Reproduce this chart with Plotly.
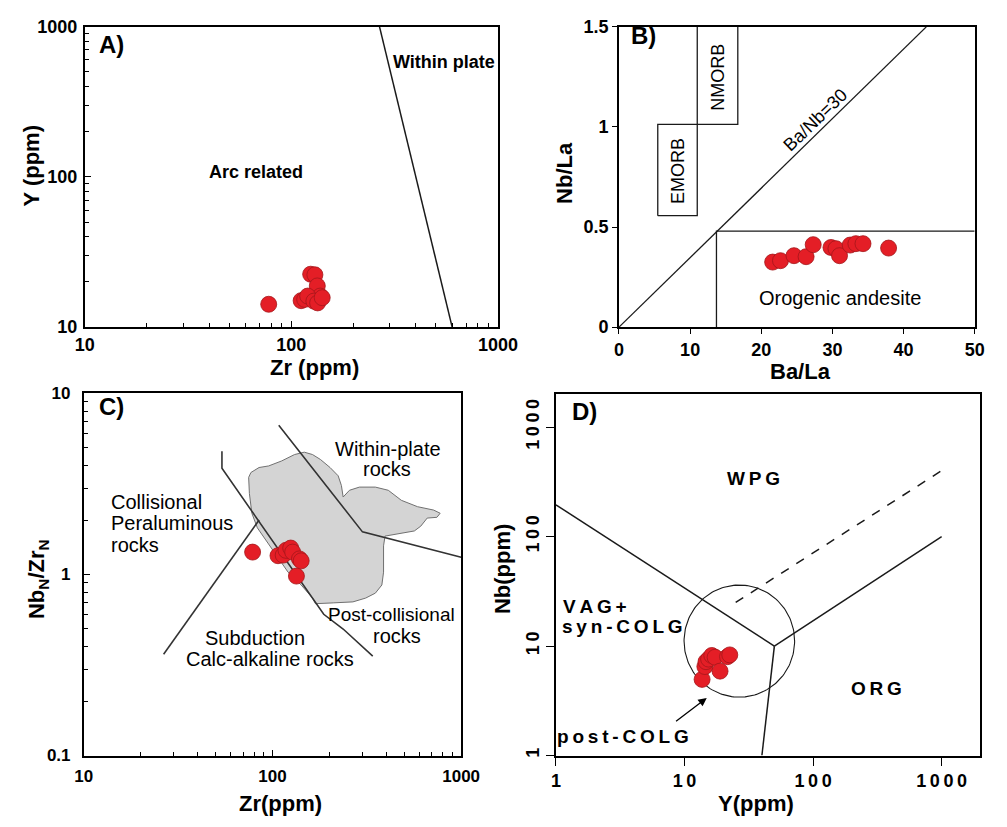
import math
import numpy as np
import plotly.graph_objects as go

W, H = 1007, 827
FONT = "Arial, 'Liberation Sans', Helvetica, sans-serif"
RED = "#E41E26"
RED_EDGE = "#A3161B"
INK = "#1a1a1a"

# ---------------- Panel A : Y vs Zr ----------------
zr_a = [77.7, 124, 130, 133.5, 138, 111.5, 116, 120, 128.5, 134, 141]
y_a = [14.2, 22.5, 22.3, 18.8, 16.1, 15.0, 15.3, 16.1, 14.9, 14.5, 15.7]
arc_wp_zr = [267, 600]
arc_wp_y = [1000, 10]

# ---------------- Panel B : Nb/La vs Ba/La ----------------
ba_la_b = [21.6, 22.7, 24.6, 26.3, 27.3, 29.8, 30.5, 31.0, 32.5, 33.3, 34.3, 37.9]
nb_la_b = [0.325, 0.332, 0.357, 0.352, 0.412, 0.398, 0.392, 0.357, 0.410, 0.417, 0.417, 0.395]
banb30_x = [0, 43.2]
banb30_y = [0, 1.5]
orogenic_x = [13.7, 13.7, 50]
orogenic_y = [0, 0.48, 0.48]
emorb_x = [5.45, 5.45, 11.0, 11.0, 5.45]
emorb_y = [0.557, 1.013, 1.013, 0.557, 0.557]
nmorb_x = [11.0, 11.0, 16.7, 16.7]
nmorb_y = [1.5, 1.013, 1.013, 1.5]

# ---------------- Panel C : NbN/ZrN vs Zr ----------------
zr_c = [78.5, 107, 114, 118, 125, 128, 139, 142, 134]
nbzr_c = [1.33, 1.27, 1.28, 1.36, 1.40, 1.33, 1.22, 1.19, 0.98]
subd_x = [26.5, 85]
subd_y = [0.363, 2.0]
coll_x = [54, 54, 187, 237, 340]
coll_y = [4.8, 3.86, 0.603, 0.5, 0.354]
wp_x = [108, 300, 1000]
wp_y = [6.68, 1.72, 1.245]
field_zr = [74.8, 76.9, 84.9, 95.5, 111.9, 131, 147.5, 163, 179.6, 202, 223, 232, 237,
            256, 289, 351, 411, 482, 587, 715, 774, 744, 661, 611, 565, 395, 388, 388,
            380, 351, 312, 267, 210, 169, 163, 142, 121, 103, 91.8, 83.2, 77.8, 75.5, 74.8]
field_nbzr = [3.44, 3.66, 3.90, 3.98, 4.24, 4.60, 4.74, 4.60, 4.32, 3.90, 3.51, 3.10, 2.68,
              2.92, 3.04, 3.04, 2.92, 2.57, 2.37, 2.27, 2.18, 2.07, 2.05, 1.85, 1.74, 1.63, 1.44, 1.03,
              0.875, 0.789, 0.741, 0.706, 0.697, 0.69, 0.741, 0.875, 1.03, 1.32, 1.57, 1.81, 2.18, 2.80, 3.44]

# ---------------- Panel D : Nb vs Y ----------------
y_d = [13.7, 14.4, 14.7, 15.4, 16.3, 17.3, 18.9, 21.6, 22.5]
nb_d = [4.96, 6.5, 7.2, 7.6, 8.2, 7.9, 5.9, 8.0, 8.3]
wpg_vag_x = [1, 50]
wpg_vag_y = [195, 10]
wpg_org_x = [50, 1000]
wpg_org_y = [10, 100]
vag_org_x = [40, 50]
vag_org_y = [1, 10]
dash_x = [25, 1000]
dash_y = [25, 400]
postcolg_center = (26.7, 11.1)      # Y, Nb
postcolg_radius_log = (0.43, 0.512)  # decades along Y and Nb

# panel frames in pixels: left, top, right, bottom
frames = {
    "1": (77, 17, 503, 325),
    "2": (627.7, 17.3, 994.3, 325),
    "3": (76, 393, 465, 764),
    "4": (562.7, 394, 1000, 764),
}


def dom(f):
    l, t, r, b = f
    return [l / W, r / W], [1 - b / H, 1 - t / H]


fig = go.Figure()


def line(x, y, n, dash="solid", width=1.5, color=INK):
    fig.add_trace(go.Scatter(x=x, y=y, mode="lines", xaxis="x" + n, yaxis="y" + n,
                             line=dict(color=color, width=width, dash=dash),
                             hoverinfo="skip", showlegend=False))


def points(x, y, n):
    fig.add_trace(go.Scatter(x=x, y=y, mode="markers", xaxis="x" + n, yaxis="y" + n,
                             marker=dict(size=16, color=RED, line=dict(color=RED_EDGE, width=0.8)),
                             showlegend=False))


# Panel A
line(arc_wp_zr, arc_wp_y, "1")
points(zr_a, y_a, "1")

# Panel B
line(banb30_x, banb30_y, "2", width=1.3)
line(orogenic_x, orogenic_y, "2", width=1.3)
line(emorb_x, emorb_y, "2", width=1.3)
line(nmorb_x, nmorb_y, "2", width=1.3)
points(ba_la_b, nb_la_b, "2")

# Panel C
fig.add_trace(go.Scatter(x=field_zr, y=field_nbzr, mode="lines", fill="toself",
                         fillcolor="#D4D4D4", line=dict(color="#707070", width=1),
                         xaxis="x3", yaxis="y3", hoverinfo="skip", showlegend=False))
line(subd_x, subd_y, "3", color="#333333", width=1.6)
line(coll_x, coll_y, "3", color="#333333", width=1.6)
line(wp_x, wp_y, "3", color="#333333", width=1.6)
points(zr_c, nbzr_c, "3")

# Panel D
line(wpg_vag_x, wpg_vag_y, "4")
line(wpg_org_x, wpg_org_y, "4")
line(vag_org_x, vag_org_y, "4")
line(dash_x, dash_y, "4", dash="dash")
t = np.linspace(0, 2 * np.pi, 181)
cx, cy = math.log10(postcolg_center[0]), math.log10(postcolg_center[1])
rx, ry = postcolg_radius_log
line(10 ** (cx + rx * np.cos(t)), 10 ** (cy + ry * np.sin(t)), "4", width=1.1)
points(y_d, nb_d, "4")

tickfont = dict(family=FONT, size=18, color="black", weight="bold")


def axis(n, which, **kw):
    d = dom(frames[n])
    base = dict(domain=d[0] if which == "x" else d[1], showline=True, linecolor="black",
                linewidth=1.6, mirror=True, showgrid=False, zeroline=False,
                tickfont=tickfont, tickcolor="black")
    base.update(kw)
    key = ("xaxis" if which == "x" else "yaxis") + ("" if n == "1" else n)
    base["anchor"] = ("y" if which == "x" else "x") + ("" if n == "1" else n)
    fig.layout[key] = base


log_inside = dict(type="log", dtick=1, ticks="inside", ticklen=6, tickwidth=1.2,
                  minor=dict(ticks="inside", ticklen=4, tickwidth=1, tickcolor="black",
                             dtick="D1", showgrid=False))

axis("1", "x", range=[1, 3], ticklabelstandoff=0, **log_inside)
axis("1", "y", range=[1, 3], ticklabelstandoff=2, **log_inside)
axis("2", "x", range=[0, 50], tickvals=[0, 10, 20, 30, 40, 50], ticks="outside", ticklen=5)
axis("2", "y", range=[0, 1.5], tickvals=[0, 0.5, 1, 1.5], ticktext=["0", "0.5", "1", "1.5"],
     ticks="outside", ticklen=5)
axis("3", "x", range=[1, 3], ticklabelstandoff=4, tickfont=dict(tickfont, size=17), **log_inside)
axis("3", "y", range=[-1, 1], ticklabelstandoff=8, tickfont=dict(tickfont, size=17), **log_inside)


def spaced(s):
    return "\u2009".join(s)


dvals = [1, 10, 100, 1000]
axis("4", "x", type="log", range=[0, 3.3], tickvals=dvals, ticktext=[spaced(str(v)) for v in dvals],
     ticks="outside", ticklen=8, tickwidth=1.2, linewidth=2)
axis("4", "y", type="log", range=[0, 3.298], tickvals=dvals, ticktext=[spaced(str(v)) for v in dvals],
     ticks="outside", ticklen=8, tickwidth=1.2, tickangle=-90, linewidth=2)

ann = []


def text(s, x, y, n=None, size=18, bold=False, angle=0, xanchor="center", color="black", logx=False,
         logy=False):
    f = dict(family=FONT, size=size, color=color)
    if bold:
        f["weight"] = "bold"
    if n is None:
        a = dict(x=x / W, y=1 - y / H, xref="paper", yref="paper")
    else:
        a = dict(x=math.log10(x) if logx else x, y=math.log10(y) if logy else y,
                 xref="x" + ("" if n == "1" else n), yref="y" + ("" if n == "1" else n))
    a.update(text=s, showarrow=False, font=f, textangle=angle, xanchor=xanchor, yanchor="middle")
    ann.append(a)


# Panel A labels
text("A)", 13.5, 764, "1", size=24, bold=True, logx=True, logy=True)
text("Within plate", 546, 583, "1", size=18, bold=True, logx=True, logy=True)
text("Arc related", 67.8, 107.6, "1", size=18, bold=True, logx=True, logy=True)
text("Zr (ppm)", 314, 366, size=22, bold=True)
text("Y (ppm)", 22, 160, size=22, bold=True, angle=-90)

# Panel B labels
text("B)", 3.5, 1.455, "2", size=24, bold=True)
text("EMORB", 8.3, 0.78, "2", size=18, angle=-90)
text("NMORB", 13.9, 1.25, "2", size=18, angle=-90)
text("Ba/Nb=30", 27.6, 1.035, "2", size=18, angle=-44)
text("Orogenic andesite", 31.0, 0.146, "2", size=20)
text("Nb/La", 572, 167, size=22, bold=True, angle=-90)
text("Ba/La", 815, 370, size=22, bold=True)

# Panel C labels
C_SIZE = 20
text("C)", 14.1, 8.43, "3", size=24, bold=True, logx=True, logy=True)
text("Within-plate", 411, 4.95, "3", size=C_SIZE, logx=True, logy=True)
text("rocks", 405, 3.82, "3", size=C_SIZE, logx=True, logy=True)
text("Collisional", 13.55, 2.50, "3", size=C_SIZE, xanchor="left", logx=True, logy=True)
text("Peraluminous", 13.55, 1.92, "3", size=C_SIZE, xanchor="left", logx=True, logy=True)
text("rocks", 13.55, 1.46, "3", size=C_SIZE, xanchor="left", logx=True, logy=True)
text("Post-collisional", 428, 0.60, "3", size=19, logx=True, logy=True)
text("rocks", 455, 0.460, "3", size=C_SIZE, logx=True, logy=True)
text("Subduction", 80.7, 0.447, "3", size=C_SIZE, logx=True, logy=True)
text("Calc-alkaline rocks", 96.6, 0.34, "3", size=C_SIZE, logx=True, logy=True)
text("Zr(ppm)", 279, 813, size=22, bold=True)
text("Nb<sub>N</sub>/Zr<sub>N</sub>", 29, 583, size=22, bold=True, angle=-90)

# Panel D labels
text("D)", 1.66, 1380, "4", size=24, bold=True, logx=True, logy=True)
text(spaced("WPG"), 34.6, 340, "4", size=19, bold=True, logx=True, logy=True)
text(spaced("VAG+"), 2.01, 23.2, "4", size=19, bold=True, logx=True, logy=True)
text(spaced("syn-COLG"), 3.32, 15.1, "4", size=19, bold=True, logx=True, logy=True)
text(spaced("ORG"), 313, 4.12, "4", size=19, bold=True, logx=True, logy=True)
text(spaced("post-COLG"), 3.32, 1.48, "4", size=19, bold=True, logx=True, logy=True)
text("Nb(ppm)", 507, 573, size=22, bold=True, angle=-90)
text("Y(ppm)", 769, 813, size=22, bold=True)

ann.append(dict(x=math.log10(14.9), y=math.log10(3.36), ax=math.log10(8.37), ay=math.log10(2.01),
                xref="x4", yref="y4", axref="x4", ayref="y4", showarrow=True, arrowhead=2,
                arrowsize=1.3, arrowwidth=1.3, arrowcolor="black", text=""))

fig.update_layout(width=W, height=H, margin=dict(l=0, r=0, t=0, b=0),
                  paper_bgcolor="white", plot_bgcolor="white", showlegend=False,
                  annotations=ann, font=dict(family=FONT, color="black"))

fig.write_html("out.html")
